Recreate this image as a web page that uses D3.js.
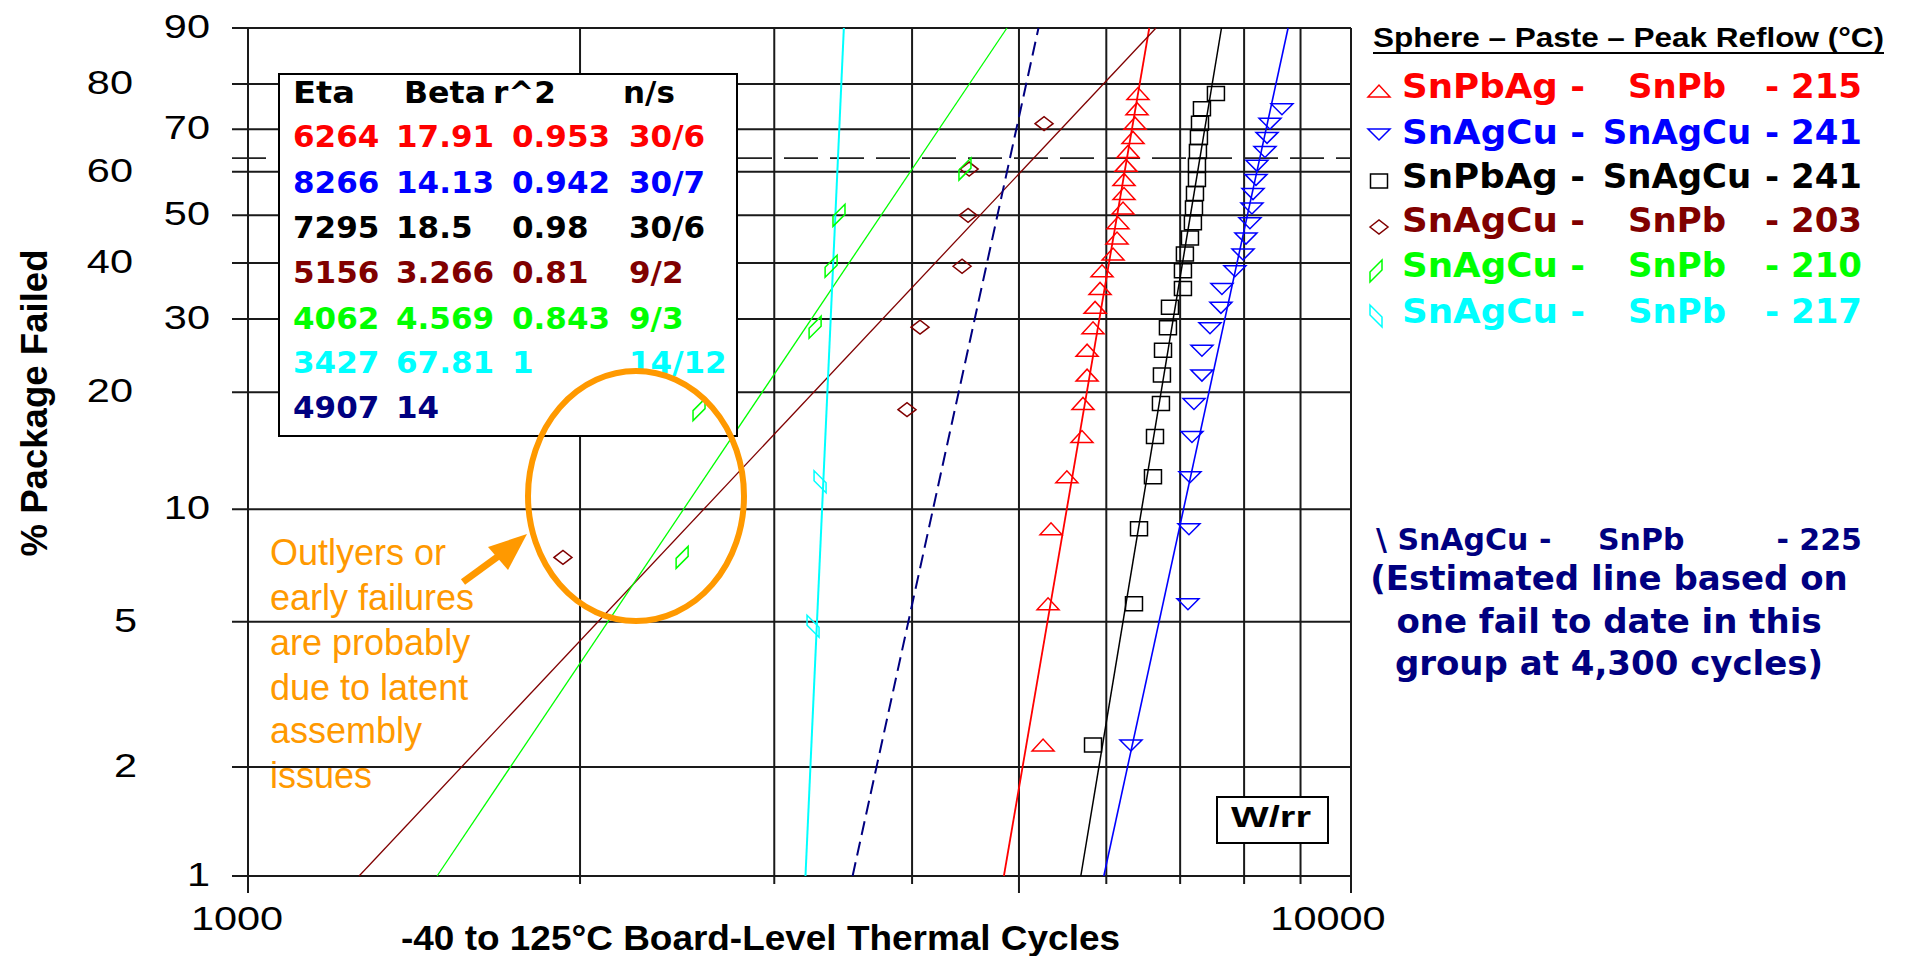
<!DOCTYPE html>
<html>
<head>
<meta charset="utf-8">
<script src="https://cdn.jsdelivr.net/npm/d3@7"></script>
<style>
  body { margin: 0; background: #fff; }
</style>
</head>
<body>
<div class="forSvg"></div>
<script>
// -DATA-
// y ticks (% failed) and x grid (cycles)
const yTicks = [90, 80, 70, 60, 50, 40, 30, 20, 10, 5, 2, 1];
const yInner = [90, 70, 50, 30, 10, 1];          // labels in the column next to the axis
const xGrid = [1000, 2000, 3000, 4000, 5000, 6000, 7000, 8000, 9000, 10000];
const xLabels = [1000, 10000];
const xLong = [1000, 5000, 10000];

// median ranks (% failed) of the plotted failures
const pct30 = [2.30, 5.59, 8.88, 12.17, 15.46, 18.75, 22.04, 25.33, 28.62, 31.91, 35.20, 38.49,
               41.78, 45.07, 48.36, 51.64, 54.93, 58.22, 61.51, 64.80, 68.09, 71.38, 74.67, 77.96];
const pct9 = [7.45, 18.09, 28.72, 39.36, 50.00, 60.64, 71.28];
const pct14 = [4.86, 11.81];

// failure cycles
const redCycles = [5258, 5313, 5346, 5526, 5703, 5715, 5764, 5764, 5836, 5861, 5922, 5947,
                   6085, 6136, 6148, 6213, 6226, 6226, 6252, 6278, 6344, 6371, 6397, 6410];
const blueCycles = [6317, 7115, 7130, 7145, 7175, 7205, 7326, 7326, 7450, 7622, 7638, 7848,
                    7982, 8031, 8098, 8132, 8150, 8201, 8218, 8356, 8392, 8444, 8658];
const blackCycles = [5836, 6357, 6424, 6614, 6642, 6725, 6739, 6754, 6824, 6853, 7041, 7041,
                     7070, 7145, 7189, 7205, 7220, 7250, 7250, 7265, 7280, 7296, 7326, 7543];
const brownCycles = [1930, 3958, 4067, 4440, 4496, 4506, 5269];
const greenCycles = [2475, 2564, 3267, 3378, 3434, 4467];
const cyanCycles = [3253, 3301];

// fitted weibull lines: cycles at 1% and at 90%
const fitLow = [4845, 5969, 5689, 1261, 1484, 3202, 3533];
const fitHigh = [6563, 8769, 7631, 6656, 4876, 3469, 5208];

// table
const tabEta = ["6264", "8266", "7295", "5156", "4062", "3427", "4907"];
const tabBeta = ["17.91", "14.13", "18.5", "3.266", "4.569", "67.81", "14"];
const tabR2 = ["0.953", "0.942", "0.98", "0.81", "0.843", "1", ""];
const tabNs = ["30/6", "30/7", "30/6", "9/2", "9/3", "14/12", ""];

// legend
const legSphere = ["SnPbAg -", "SnAgCu -", "SnPbAg -", "SnAgCu -", "SnAgCu -", "SnAgCu -"];
const legPaste = ["SnPb", "SnAgCu", "SnAgCu", "SnPb", "SnPb", "SnPb"];
const legReflow = ["- 215", "- 241", "- 241", "- 203", "- 210", "- 217"];
const noteLines = ["(Estimated line based on", "one fail to date in this", "group at 4,300 cycles)"];
const outlierLines = ["Outlyers or", "early failures", "are probably", "due to latent", "assembly", "issues"];

// colors: red, blue, black, brown, green, cyan, navy
const colors = ["#ff0000", "#0000ff", "#000000", "#800000", "#00ff00", "#00ffff", "#000080"];

const ARIAL = "'Liberation Sans', Arial, sans-serif";
const VERD = "'DejaVu Sans', Verdana, sans-serif";

// -SCALES-
const plotL = 248, plotR = 1351, plotT = 28, plotB = 876;
const weib = p => Math.log(-Math.log(1 - p / 100));
const x = d3.scaleLog().domain([1000, 10000]).range([plotL, plotR]);
const y = d3.scaleLinear().domain([weib(90), weib(1)]).range([plotT, plotB]);
const py = p => y(weib(p));

const svg = d3.select(".forSvg")
    .append("svg")
    .attr("width", 1906)
    .attr("height", 956);

function addText(g, str, tx, ty, o) {
    const t = g.append("text")
        .attr("transform", "translate(" + tx + "," + ty + ") scale(" + (o.sx || 1) + ",1)")
        .attr("font-family", o.family || ARIAL)
        .attr("font-size", o.size)
        .attr("font-weight", o.weight || "normal")
        .attr("fill", o.fill || "#000")
        .attr("text-anchor", o.anchor || "start")
        .text(str);
    if (o.len) t.attr("textLength", o.len).attr("lengthAdjust", "spacingAndGlyphs");
    return t;
}

// -GRID-
const grid = svg.append("g").attr("stroke", "#1a1a1a").attr("stroke-width", 2);

grid.selectAll(".hline")
    .data(yTicks)
    .enter()
    .append("line")
    .attr("x1", 232)
    .attr("x2", plotR)
    .attr("y1", d => py(d))
    .attr("y2", d => py(d));

grid.selectAll(".vline")
    .data(xGrid)
    .enter()
    .append("line")
    .attr("x1", d => x(d))
    .attr("x2", d => x(d))
    .attr("y1", plotT)
    .attr("y2", d => xLong.includes(d) ? 893 : 884);

// 63.2% line
svg.append("line")
    .attr("x1", 232).attr("x2", plotR)
    .attr("y1", py(63.21)).attr("y2", py(63.21))
    .attr("stroke", "#222").attr("stroke-width", 1.6)
    .attr("stroke-dasharray", "34,12");

// tick labels
svg.selectAll(".ylab")
    .data(yTicks)
    .enter()
    .each(function (d) {
        const right = yInner.includes(d) ? 210 : (d < 10 ? 137 : 133);
        addText(svg, d, right, py(d) + 10, { size: 34, sx: 1.22, anchor: "end" });
    });

xLabels.forEach((d, i) => {
    addText(svg, d, x(d) + (i === 0 ? -11 : -23), 930, { size: 34, sx: 1.22, anchor: "middle" });
});

// -FIT LINES-
const fitW = [1.8, 1.6, 1.5, 1.3, 1.3, 2, 2];
fitLow.forEach((lo, i) => {
    svg.append("line")
        .attr("x1", x(lo)).attr("y1", py(1))
        .attr("x2", x(fitHigh[i])).attr("y2", py(90))
        .attr("stroke", colors[i])
        .attr("stroke-width", fitW[i])
        .attr("stroke-dasharray", i === 6 ? "14,7" : null);
});

// -TABLE BOX-
svg.append("rect")
    .attr("x", 279).attr("y", 74)
    .attr("width", 458).attr("height", 362)
    .attr("fill", "#fff").attr("stroke", "#000").attr("stroke-width", 2);

const tab = svg.append("g");
addText(tab, "Eta", 293, 103, { size: 31, weight: "bold", family: VERD, len: 62 });
addText(tab, "Beta", 404, 103, { size: 31, weight: "bold", family: VERD, len: 82 });
addText(tab, "r^2", 493, 103, { size: 31, weight: "bold", family: VERD });
addText(tab, "n/s", 623, 103, { size: 31, weight: "bold", family: VERD });

const rowY = [147, 193, 238, 283, 329, 373, 418];
tabEta.forEach((d, i) => {
    const o = { size: 31, weight: "bold", family: VERD, fill: colors[i] };
    addText(tab, d, 293, rowY[i], o);
    addText(tab, tabBeta[i], 396, rowY[i], o);
    addText(tab, tabR2[i], 512, rowY[i], o);
    addText(tab, tabNs[i], 629, rowY[i], o);
});

// -MARKERS-
const shapes = {
    up: "M-11,6L11,6L0,-6Z",
    down: "M-11,-5L11,-5L0,6Z",
    square: "M-8.5,-7L8.5,-7L8.5,7L-8.5,7Z",
    diamond: "M-9,0L0,-7L9,0L0,7Z",
    para: "M-6,1L6,-11L6,-1L-6,11Z",
    para2: "M-6,-11L-6,-1L6,11L6,1Z"
};

const series = [
    { cyc: redCycles, pct: pct30, shape: "up", color: colors[0] },
    { cyc: blueCycles, pct: pct30, shape: "down", color: colors[1] },
    { cyc: blackCycles, pct: pct30, shape: "square", color: colors[2] },
    { cyc: brownCycles, pct: pct9, shape: "diamond", color: colors[3] },
    { cyc: greenCycles, pct: pct9, shape: "para", color: colors[4] },
    { cyc: cyanCycles, pct: pct14, shape: "para2", color: colors[5] }
];

series.forEach(s => {
    svg.append("g")
        .selectAll("path")
        .data(s.cyc)
        .enter()
        .append("path")
        .attr("d", shapes[s.shape])
        .attr("transform", (d, i) => "translate(" + x(d) + "," + py(s.pct[i]) + ")")
        .attr("fill", "none")
        .attr("stroke", s.color)
        .attr("stroke-width", 1.5);
});

// W/rr box
svg.append("rect")
    .attr("x", 1217).attr("y", 797)
    .attr("width", 111).attr("height", 46)
    .attr("fill", "#fff").attr("stroke", "#000").attr("stroke-width", 2);
addText(svg, "W/rr", 1231, 827, { size: 30, weight: "bold", len: 80 });

// -AXIS TITLES-
addText(svg, "-40 to 125°C Board-Level Thermal Cycles", 401, 950, { size: 35, weight: "bold", len: 719 });
svg.append("text")
    .attr("transform", "translate(47,403) rotate(-90)")
    .attr("font-family", ARIAL)
    .attr("font-size", 36)
    .attr("font-weight", "bold")
    .attr("text-anchor", "middle")
    .attr("textLength", 307)
    .attr("lengthAdjust", "spacingAndGlyphs")
    .text("% Package Failed");

// -LEGEND-
const leg = svg.append("g");
addText(leg, "Sphere – Paste – Peak Reflow (°C)", 1373, 47, { size: 28, weight: "bold", len: 511 });
leg.append("line")
    .attr("x1", 1373).attr("x2", 1884)
    .attr("y1", 53).attr("y2", 53)
    .attr("stroke", "#000").attr("stroke-width", 2);

const legY = [98, 144, 188, 232, 277, 323];
const legSymY = [91, 134, 181, 227, 271, 316];
legSphere.forEach((d, i) => {
    const o = { size: 34, weight: "bold", family: VERD, fill: colors[i] };
    addText(leg, d, 1402, legY[i], Object.assign({}, o, { len: 183 }));
    addText(leg, legPaste[i], 1677, legY[i], Object.assign({}, o, { anchor: "middle" }));
    addText(leg, legReflow[i], 1862, legY[i], Object.assign({}, o, { anchor: "end" }));
    leg.append("path")
        .attr("d", shapes[series[i].shape])
        .attr("transform", "translate(" + (i > 3 ? 1376 : 1379) + "," + legSymY[i] + ")")
        .attr("fill", "none")
        .attr("stroke", colors[i])
        .attr("stroke-width", 1.5);
});

// navy note
const nav = { size: 30, weight: "bold", family: VERD, fill: "#000080" };
addText(leg, "\\ SnAgCu -", 1376, 550, nav);
addText(leg, "SnPb", 1598, 550, nav);
addText(leg, "- 225", 1862, 550, Object.assign({}, nav, { anchor: "end" }));
noteLines.forEach((d, i) => {
    addText(leg, d, 1609, [590, 633, 675][i], { size: 34, weight: "bold", family: VERD, fill: "#000080", anchor: "middle" });
});

// -ANNOTATION-
const orange = "#ff9900";
svg.append("ellipse")
    .attr("cx", 636).attr("cy", 496)
    .attr("rx", 108).attr("ry", 125)
    .attr("fill", "none").attr("stroke", orange).attr("stroke-width", 6);

svg.append("line")
    .attr("x1", 463).attr("y1", 582)
    .attr("x2", 500).attr("y2", 555)
    .attr("stroke", orange).attr("stroke-width", 7);
svg.append("path")
    .attr("d", "M527,534L488,547L508,570Z")
    .attr("fill", orange);

outlierLines.forEach((d, i) => {
    addText(svg, d, 270, [565, 610, 655, 700, 743, 788][i], { size: 36, fill: orange });
});
</script>
</body>
</html>
